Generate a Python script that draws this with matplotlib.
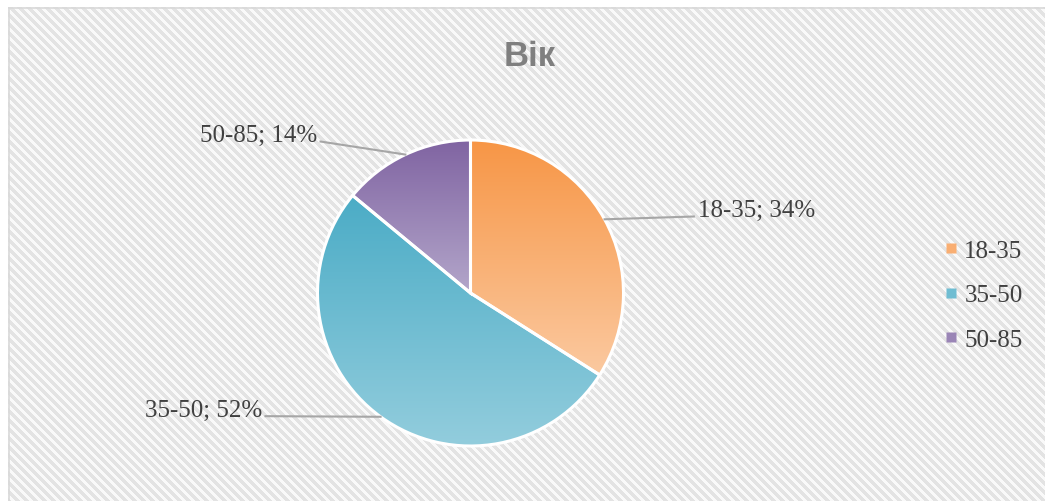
import numpy as np
import matplotlib.pyplot as plt
from matplotlib.lines import Line2D
from matplotlib.colors import LinearSegmentedColormap

# data
title = 'Вік'
groups = ['18-35', '35-50', '50-85']
shares = [34, 52, 14]
top_colors = ['#F79646', '#4BACC6', '#8064A2']
bottom_colors = ['#FBC9A0', '#93CDDD', '#B3A6CA']

W, H = 1045, 502
cx, cy, R = 470.5, 294, 153   # pie centre and radius in pixels

fig = plt.figure(figsize=(W / 100, H / 100), dpi=100)
fig.patch.set_facecolor('white')

# striped background of the chart area
bg = fig.add_axes([0, 0, 1, 1], zorder=0)
yy, xx = np.mgrid[0:H, 0:W]
stripes = ((xx - yy) % 9) < 4.5
img = np.where(stripes, 0.89, 0.975)
img[:8, :] = 1.0
img[:, :8] = 1.0
bg.imshow(img, cmap='gray', vmin=0, vmax=1, extent=(0, W, H, 0),
          interpolation='bilinear', aspect='auto')
bg.plot([8.5, 8.5], [H, 8.5], color='#D9D9D9', lw=1.2)
bg.plot([8.5, W], [8.5, 8.5], color='#D9D9D9', lw=1.2)
bg.set_xlim(0, W)
bg.set_ylim(H, 0)
bg.axis('off')

# pie axes, one data unit = R pixels
ax = fig.add_axes([0, 0, 1, 1], zorder=1)
ax.patch.set_alpha(0)
wedges, _ = ax.pie(shares, startangle=90, counterclock=False, radius=1,
                   colors=top_colors,
                   wedgeprops=dict(edgecolor='white', linewidth=2.2))
ax.set_aspect('auto')
ax.axis('off')

# vertical gradient inside each slice
for w, c_top, c_bot in zip(wedges, top_colors, bottom_colors):
    verts = w.get_path().vertices
    x0, x1 = verts[:, 0].min(), verts[:, 0].max()
    y0, y1 = verts[:, 1].min(), verts[:, 1].max()
    cmap = LinearSegmentedColormap.from_list('g', [c_bot, c_top])
    grad = np.linspace(0, 1, 256).reshape(-1, 1)
    im = ax.imshow(grad, cmap=cmap, extent=(x0, x1, y0, y1), origin='lower',
                   aspect='auto', zorder=1.5, interpolation='bilinear')
    im.set_clip_path(w)
    w.set_facecolor('none')
    w.set_zorder(2)
ax.set_xlim(-cx / R, (W - cx) / R)
ax.set_ylim(-(H - cy) / R, cy / R)

# data labels with leader lines
label_font = dict(family='Liberation Serif', size=18, color='#404040')
label_pos = [(1.49, 0.54, 'left'), (-1.36, -0.765, 'right'), (-1.0, 1.03, 'right')]
for w, g, s, (lx, ly, ha) in zip(wedges, groups, shares, label_pos):
    mid = np.deg2rad((w.theta1 + w.theta2) / 2)
    px, py = np.cos(mid), np.sin(mid)
    ex = lx - 0.03 if ha == 'left' else lx + 0.02
    ax.plot([px, ex], [py, ly - 0.04], color='#A6A6A6', lw=1.5, zorder=3)
    ax.text(lx, ly, f'{g}; {s}%', ha=ha, va='center', **label_font)

# title
fig.text(530 / W, 1 - 56 / H, title, ha='center', va='center',
         family='Liberation Sans', weight='bold', size=25, color='#7F7F7F')

# legend
handles = [Line2D([], [], marker='s', ls='none', markersize=7,
                  markerfacecolor=c, markeredgecolor='none')
           for c in ['#F9AE72', '#6FBDD2', '#9A85B6']]
fig.legend(handles, groups, loc='center left',
           bbox_to_anchor=(933 / W, 1 - 296 / H), frameon=False,
           handlelength=0.45, handletextpad=0.3, labelspacing=0.88,
           borderpad=0, prop=dict(family='Liberation Serif', size=18),
           labelcolor='#404040')

fig.savefig('out.png', dpi=100)
